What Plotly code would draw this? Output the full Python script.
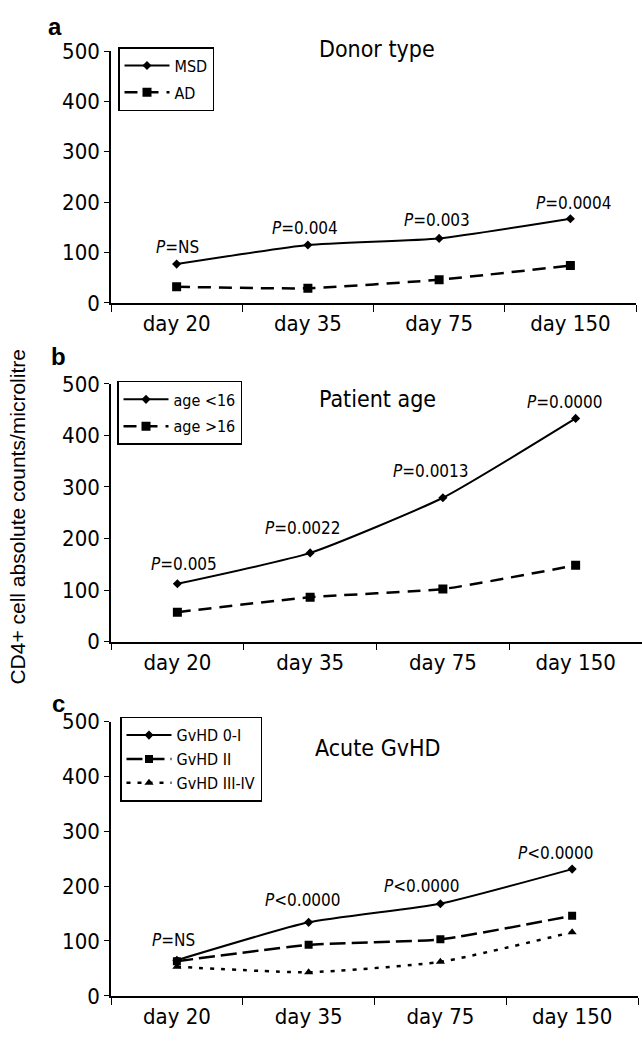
import plotly.graph_objects as go

days = ["day 20", "day 35", "day 75", "day 150"]

# Panel a - Donor type
msd = [77, 115, 128, 167]
ad = [32, 29, 46, 74]
p_a = ["<i>P</i>=NS", "<i>P</i>=0.004", "<i>P</i>=0.003", "<i>P</i>=0.0004"]

# Panel b - Patient age
age_lt16 = [112, 172, 279, 433]
age_gt16 = [57, 86, 102, 148]
p_b = ["<i>P</i>=0.005", "<i>P</i>=0.0022", "<i>P</i>=0.0013", "<i>P</i>=0.0000"]

# Panel c - Acute GvHD
gvhd_0i = [65, 134, 168, 231]
gvhd_ii = [63, 93, 103, 146]
gvhd_iiiiv = [53, 43, 62, 116]
p_c = ["<i>P</i>=NS", "<i>P</i>&lt;0.0000", "<i>P</i>&lt;0.0000", "<i>P</i>&lt;0.0000"]

NARROW = "DejaVu Sans Condensed, Liberation Sans Narrow, sans-serif"
REG = "Liberation Sans, Arial, sans-serif"
H = 1043.0
W = 642.0

def py(pix):
    return 1 - pix / H

fig = go.Figure()

def add(x, y, name, xa, ya, leg, dash, symbol, msize, width=2):
    fig.add_trace(go.Scatter(
        x=x, y=y, name=name, xaxis=xa, yaxis=ya, legend=leg,
        legendgroup=name, mode="lines+markers",
        line=dict(color="black", width=width, dash=dash, shape="spline", smoothing=0.5),
        marker=dict(symbol=symbol, size=msize, color="black"),
    ))

add(days, msd, "MSD", "x", "y", "legend", "solid", "diamond", 7)
add(days, ad, "AD", "x", "y", "legend", "13px,8px", "square", 9, 2.5)
add(days, age_lt16, "age <16", "x2", "y2", "legend2", "solid", "diamond", 7)
add(days, age_gt16, "age >16", "x2", "y2", "legend2", "13px,8px", "square", 9, 2.5)
add(days, gvhd_0i, "GvHD 0-I", "x3", "y3", "legend3", "solid", "diamond", 7)
add(days, gvhd_ii, "GvHD II", "x3", "y3", "legend3", "16px,6px", "square", 8, 2.5)
add(days, gvhd_iiiiv, "GvHD III-IV", "x3", "y3", "legend3", "4px,7px", "triangle-up", 8, 2.5)

doms = {
    "": ((111 / W, 636 / W), (py(298), py(40))),
    "2": ((111 / W, 642 / W), (py(645), py(381))),
    "3": ((111 / W, 638 / W), (py(1008), py(727))),
}

axcommon_x = dict(
    type="category", showline=True, linecolor="black", linewidth=1.5,
    ticks="outside", tickson="boundaries", ticklen=7, tickcolor="black",
    showgrid=False, zeroline=False, tickfont=dict(family=NARROW, size=22, color="black"),
    range=[-0.5, 3.5], fixedrange=True,
)
axcommon_y = dict(
    range=[0, 500], dtick=100, showline=True, linecolor="black", linewidth=1.5,
    ticks="outside", ticklen=5, tickcolor="black", showgrid=False, zeroline=False,
    tickfont=dict(family=NARROW, size=22, color="black"),
)

layout = dict(
    width=642, height=1043, margin=dict(l=0, r=0, t=0, b=0),
    paper_bgcolor="white", plot_bgcolor="white", showlegend=True,
)
for s, (xd, yd) in doms.items():
    layout["xaxis" + s] = dict(axcommon_x, domain=list(xd), anchor="y" + s)
    layout["yaxis" + s] = dict(axcommon_y, domain=list(yd), anchor="x" + s)

legcommon = dict(
    bordercolor="black", borderwidth=1.5, bgcolor="white",
    font=dict(family=NARROW, size=16, color="black"),
    xanchor="left", yanchor="top", tracegroupgap=3, itemwidth=45,
)
layout["legend"] = dict(legcommon, x=118 / W, y=py(36))
layout["legend2"] = dict(legcommon, x=117 / W, y=py(378))
layout["legend3"] = dict(legcommon, x=120 / W, y=py(722), tracegroupgap=0)
fig.update_layout(**layout)

anns = []
def pann(xa, ya, vals, texts, shifts):
    for d, v, t, (dx, dy) in zip(days, vals, texts, shifts):
        anns.append(dict(x=d, y=v, xref=xa, yref=ya, text=t, showarrow=False,
                         xshift=dx, yshift=dy, yanchor="middle",
                         font=dict(family=NARROW, size=17, color="black")))

pann("x", "y", msd, p_a, [(1, 17), (-3, 17), (-2, 18), (4, 16)])
pann("x2", "y2", age_lt16, p_b, [(7, 20), (-7, 25), (-12, 27), (-11, 16)])
pann("x3", "y3", gvhd_0i, p_c, [(-3, 20), (-6, 22), (-18, 18), (-16, 16)])

def txt(x, y, t, size, fam=NARROW, bold=False, angle=0):
    anns.append(dict(x=x / W, y=py(y), xref="paper", yref="paper", text=("<b>%s</b>" % t) if bold else t,
                     showarrow=False, xanchor="center", yanchor="middle", textangle=angle,
                     font=dict(family=fam, size=size, color="black")))

txt(377, 38, "Donor type", 23)
txt(377, 397, "Patient age", 23)
txt(377, 754, "Acute GvHD", 23)
txt(55, 15, "a", 24, fam=REG, bold=True)
txt(58, 353, "b", 24, fam=REG, bold=True)
txt(58, 708, "c", 24, fam=REG, bold=True)
txt(18, 517, "CD4+ cell absolute counts/microlitre", 21, fam=REG, angle=-90)

fig.update_layout(annotations=anns)
fig.write_html("out.html")
